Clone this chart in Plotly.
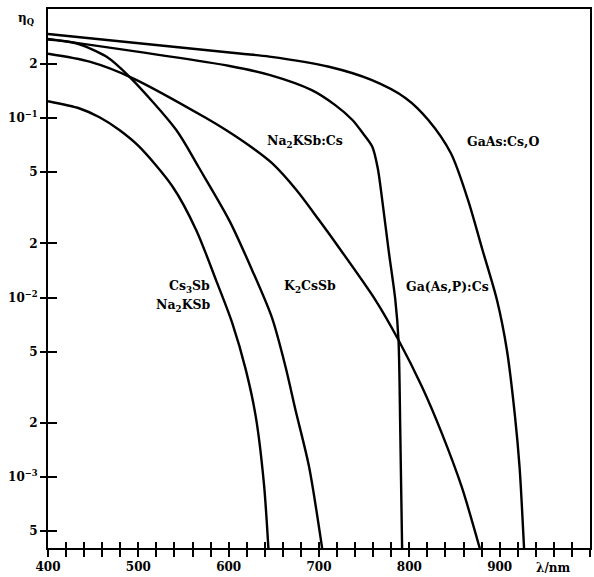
import numpy as np
import plotly.graph_objects as go

# ---- data (wavelength in nm, quantum efficiency eta_Q) ----
gaas_nm = [400, 612, 645, 711, 758, 796, 821, 846, 865, 881, 897, 908, 917, 922, 927]
gaas_q = [0.294, 0.229, 0.220, 0.193, 0.163, 0.129, 0.0975, 0.0636, 0.0349, 0.0184,
          0.00968, 0.0051, 0.00217, 0.00114, 0.0004]

na2ksbcs_nm = [400, 601, 645, 692, 718, 737, 748, 759, 765, 770, 777, 784.5, 788, 790, 792]
na2ksbcs_q = [0.276, 0.195, 0.174, 0.143, 0.118, 0.0975, 0.083, 0.0692, 0.0526, 0.0349,
              0.0184, 0.00968, 0.0058, 0.00176, 0.0004]

gaasp_nm = [400, 446, 493.5, 575, 597, 625, 648, 675, 700, 722, 762.5, 788, 814, 836,
            858, 878]
gaasp_q = [0.228, 0.206, 0.167, 0.100, 0.0857, 0.0689, 0.056, 0.0397, 0.027, 0.0190,
           0.00968, 0.0058, 0.00318, 0.00175, 0.00088, 0.0004]

k2cssb_nm = [400, 431, 464.5, 490, 542, 567, 600.5, 626, 648, 663, 674, 689, 703.5]
k2cssb_q = [0.274, 0.261, 0.220, 0.170, 0.0857, 0.053, 0.027, 0.0142, 0.0077,
            0.0041, 0.00236, 0.00114, 0.0004]

cs3sb_nm = [400, 435, 457, 479, 501, 538, 564, 586, 604, 619, 630, 639, 644]
cs3sb_q = [0.124, 0.113, 0.101, 0.0857, 0.0692, 0.0414, 0.0238, 0.0125, 0.0072,
           0.00395, 0.00217, 0.00092, 0.0004]

x_ticks = list(range(400, 1001, 20))
x_ticktext = [str(v) if v % 100 == 0 and v < 1000 else "" for v in x_ticks]
y_ticks = [0.2, 0.1, 0.05, 0.02, 0.01, 0.005, 0.002, 0.001, 0.0005]
y_ticktext = ["2", "10<sup>−1</sup>", "5", "2", "10<sup>−2</sup>", "5", "2",
              "10<sup>−3</sup>", "5"]

labels = ["Cs<sub>3</sub>Sb", "Na<sub>2</sub>KSb", "K<sub>2</sub>CsSb", "Ga(As,P):Cs",
          "Na<sub>2</sub>KSb:Cs", "GaAs:Cs,O"]

FONT = "DejaVu Serif"
line_style = dict(color="black", width=2.4, shape="spline", smoothing=0.8)

fig = go.Figure()
for xs, ys in [(gaas_nm, gaas_q), (na2ksbcs_nm, na2ksbcs_q), (gaasp_nm, gaasp_q),
               (k2cssb_nm, k2cssb_q)]:
    fig.add_trace(go.Scatter(x=xs, y=ys, mode="lines", line=line_style,
                             hoverinfo="skip", showlegend=False))
# last curve drawn on the overlay axes (which carry the inner tick halves)
fig.add_trace(go.Scatter(x=cs3sb_nm, y=cs3sb_q, mode="lines", line=line_style,
                         xaxis="x2", yaxis="y2", hoverinfo="skip", showlegend=False))

x_range = [400, 1000]
y_range = [np.log10(0.000402), np.log10(0.405)]

tickfont = dict(family=FONT, size=12, color="black", weight="bold")

fig.update_layout(
    width=594, height=577,
    margin=dict(l=48, r=2, t=9, b=29),
    paper_bgcolor="white", plot_bgcolor="white",
    xaxis=dict(range=x_range, tickmode="array", tickvals=x_ticks, ticktext=x_ticktext,
               ticks="outside", ticklen=7, tickwidth=1.6, tickcolor="black",
               showline=True, linecolor="black", linewidth=2, mirror=True,
               showgrid=False, zeroline=False, tickfont=tickfont),
    yaxis=dict(type="log", range=y_range, tickmode="array", tickvals=y_ticks,
               ticktext=y_ticktext, ticks="outside", ticklen=6, tickwidth=1.6,
               tickcolor="black", showline=True, linecolor="black", linewidth=2,
               mirror=True, showgrid=False, zeroline=False, tickfont=tickfont),
    xaxis2=dict(range=x_range, overlaying="x", anchor="y", side="bottom",
                tickmode="array", tickvals=x_ticks, ticks="inside", ticklen=6,
                tickwidth=1.6, tickcolor="black", showticklabels=False,
                showline=False, showgrid=False, zeroline=False),
    yaxis2=dict(type="log", range=y_range, overlaying="y", anchor="x", side="left",
                tickmode="array", tickvals=y_ticks, ticks="inside", ticklen=9,
                tickwidth=1.6, tickcolor="black", showticklabels=False,
                showline=False, showgrid=False, zeroline=False),
)

lab_font = dict(family=FONT, size=12.5, color="black", weight="bold")
ann = [
    dict(text=labels[0], x=582, y=np.log10(0.01148), xanchor="right"),
    dict(text=labels[1], x=583, y=np.log10(0.00908), xanchor="right"),
    dict(text=labels[2], x=690, y=np.log10(0.01148), xanchor="center"),
    dict(text=labels[3], x=794, y=np.log10(0.01148), xanchor="left"),
    dict(text=labels[4], x=684.5, y=np.log10(0.0738), xanchor="center"),
    dict(text=labels[5], x=904, y=np.log10(0.0738), xanchor="center"),
]
for a in ann:
    fig.add_annotation(xref="x", yref="y", showarrow=False, yanchor="middle",
                       font=lab_font, **a)

fig.add_annotation(text="η<sub>Q</sub>", xref="paper", yref="paper", x=-0.04, y=0.982,
                   xanchor="center", yanchor="middle", showarrow=False,
                   font=dict(family=FONT, size=12, color="black", weight="bold"))
fig.add_annotation(text="λ/nm", xref="paper", yref="paper", x=0.932, y=-0.038,
                   xanchor="center", yanchor="middle", showarrow=False,
                   font=dict(family=FONT, size=12, color="black", weight="bold"))

fig.write_html("out.html", config={"displayModeBar": False},
               post_script="document.body.style.margin='0';")
